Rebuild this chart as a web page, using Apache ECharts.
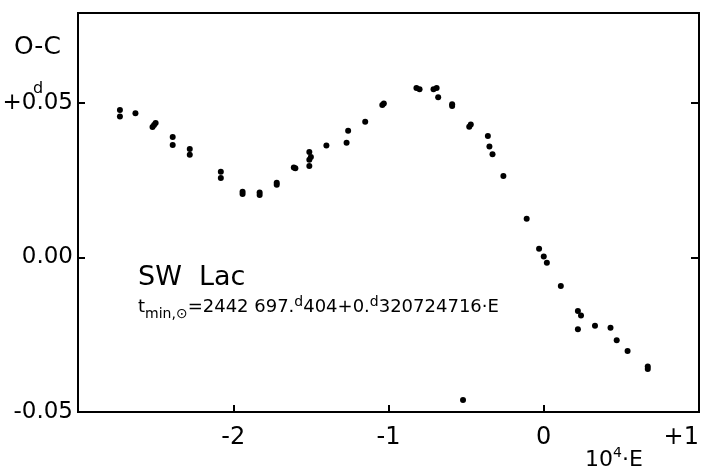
<!DOCTYPE html>
<html>
<head>
<meta charset="utf-8">
<script src="https://cdn.jsdelivr.net/npm/echarts@6/dist/echarts.min.js"></script>
<style>
  html, body { margin: 0; padding: 0; background: #fff; }
  #main { width: 702px; height: 473px; }
</style>
</head>
<body>
<div id="main"></div>
<script>
// epoch E in units of 10^4, O-C in days
var epochs = [
  -2.73, -2.73, -2.63, -2.51, -2.52, -2.50, -2.39, -2.39, -2.28, -2.28,
  -2.08, -2.08, -1.94, -1.94, -1.83, -1.83, -1.72, -1.72, -1.60, -1.61,
  -1.51, -1.51, -1.50, -1.51, -1.40, -1.27, -1.26, -1.15, -1.04, -1.03,
  -0.82, -0.80, -0.71, -0.69, -0.68, -0.59, -0.59, -0.48, -0.47, -0.36,
  -0.35, -0.33, -0.26, -0.11, -0.03, 0.00, 0.02, 0.11, 0.22, 0.24,
  0.22, 0.33, 0.43, 0.47, 0.54, 0.67, 0.67, -0.52
]
var oc = [
  0.0477, 0.0456, 0.0467, 0.0429, 0.0422, 0.0435, 0.0390, 0.0364, 0.0351, 0.0332,
  0.0277, 0.0257, 0.0213, 0.0205, 0.0210, 0.0202, 0.0242, 0.0235, 0.0289, 0.0291,
  0.0341, 0.0316, 0.0325, 0.0296, 0.0362, 0.0371, 0.0410, 0.0439, 0.0493, 0.0498,
  0.0548, 0.0544, 0.0544, 0.0548, 0.0518, 0.0496, 0.0490, 0.0423, 0.0430, 0.0393,
  0.0359, 0.0334, 0.0264, 0.0125, 0.0028, 0.0003, -0.0017, -0.0092, -0.0173, -0.0188,
  -0.0232, -0.0221, -0.0227, -0.0268, -0.0303, -0.0353, -0.0361, -0.0461
]

var xTicks = [-2, -1, 0, 1]
var xTickText = ['-2', '-1', '0', '+1']
var yTickText = { '-0.05': '-0.05', '0': '0.00', '0.05': '+0.05' }

var points = epochs.map(function (e, i) { return [e, oc[i]] })

var font = 'DejaVu Sans'
var chart = echarts.init(document.getElementById('main'))

var option = {
  backgroundColor: '#fff',
  animation: false,
  grid: {
    left: 78, right: 3, top: 13, bottom: 61,
    containLabel: false, outerBoundsMode: 'none',
    show: true, borderColor: '#000', borderWidth: 2
  },
  xAxis: {
    type: 'value', min: -3, max: 1, interval: 1,
    splitLine: { show: false },
    axisLine: { onZero: false, lineStyle: { color: '#000', width: 2 } },
    axisTick: { inside: true, length: 7, lineStyle: { color: '#000', width: 2 } },
    axisLabel: {
      color: '#000', fontFamily: font, fontSize: 24, margin: 14,
      alignMaxLabel: 'right',
      formatter: function (v) {
        var i = xTicks.indexOf(Math.round(v))
        return i < 0 ? '' : xTickText[i]
      }
    }
  },
  yAxis: [{
    type: 'value', min: -0.05, max: 0.0791, interval: 0.05,
    splitLine: { show: false },
    axisLine: { onZero: false, lineStyle: { color: '#000', width: 2 } },
    axisTick: { inside: true, length: 7, lineStyle: { color: '#000', width: 2 } },
    axisLabel: {
      color: '#000', fontFamily: font, fontSize: 23, margin: 5,
      showMaxLabel: false,
      formatter: function (v) {
        var k = String(Math.round(v * 100) / 100)
        return yTickText[k] || ''
      }
    }
  }, {
    type: 'value', min: -0.05, max: 0.0791, interval: 0.05, position: 'right',
    splitLine: { show: false },
    axisLine: { show: true, onZero: false, lineStyle: { color: '#000', width: 2 } },
    axisTick: { inside: true, length: 8, lineStyle: { color: '#000', width: 2 } },
    axisLabel: { show: false }
  }],
  series: [{
    type: 'scatter',
    data: points,
    symbol: 'circle',
    symbolSize: 6,
    itemStyle: { color: '#000', opacity: 1 }
  }],
  graphic: [
    { type: 'text', left: 14, top: 35,
      style: { text: 'O-C', fontFamily: font, fontSize: 25, fill: '#000' } },
    { type: 'text', left: 33, top: 81,
      style: { text: 'd', fontFamily: font, fontSize: 16, fill: '#000' } },
    { type: 'text', left: 138, top: 264,
      style: { text: 'SW  Lac', fontFamily: font, fontSize: 27, fill: '#000' } },
    { type: 'text', left: 138, top: 295,
      style: {
        text: '{b|t}{sub|min,⊙}{b|=2442 697.}{sup|d}{b|404+0.}{sup|d}{b|320724716·E}',
        rich: {
          b: { fontFamily: font, fontSize: 18, fill: '#000' },
          sub: { fontFamily: font, fontSize: 14, fill: '#000', padding: [13, 0, 0, 0] },
          sup: { fontFamily: font, fontSize: 14, fill: '#000', padding: [0, 0, 11, 0] }
        }
      } },
    { type: 'text', left: 585, top: 446,
      style: {
        text: '{b|10}{sup|4}{b|·E}',
        rich: {
          b: { fontFamily: font, fontSize: 22, fill: '#000' },
          sup: { fontFamily: font, fontSize: 14, fill: '#000', padding: [0, 0, 14, 0] }
        }
      } }
  ]
}

chart.setOption(option)
</script>
</body>
</html>
